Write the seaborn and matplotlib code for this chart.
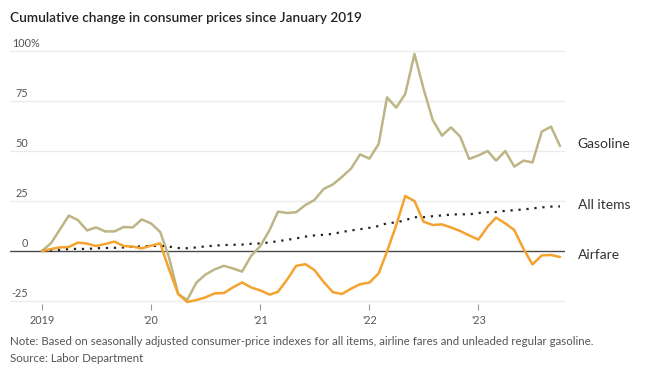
import pandas as pd
import matplotlib.pyplot as plt
import matplotlib.transforms as mtransforms
import seaborn as sns

# monthly readings, Jan 2019 - Oct 2023, cumulative % change since Jan 2019
months = pd.date_range("2019-01-01", periods=58, freq="MS")

gasoline = [0, 4, 10.5, 17.7, 15.5, 10.3, 11.8, 9.8, 9.8, 12, 11.8, 15.8,
            13.8, 9.5, -3, -21.5, -24.5, -15.8, -11.8, -9.2, -7.4, -8.7, -10.3, -2.5,
            2.5, 10.5, 19.7, 19, 19.4, 23, 25.5, 31, 33.3, 37, 41.3, 48.3,
            46.2, 53.5, 76.8, 71.7, 78.5, 98.5, 81.3, 65.5, 57.7, 61.8, 57.2, 46,
            47.8, 50, 45.2, 50, 42.2, 45.2, 44.3, 59.7, 62.2, 52.5]

airfare = [0, 1, 1.8, 2, 4.2, 3.7, 2.5, 3.5, 4.7, 2.5, 2.2, 1.3,
           2.7, 3.8, -9, -21.5, -25.5, -24.5, -23.2, -21.2, -21, -18.2, -15.7, -18.2,
           -19.7, -21.8, -20.4, -14.2, -7.4, -6.6, -9.5, -15.5, -20.6, -21.5, -18.8, -16.6,
           -15.8, -11.2, -0.3, 13, 27.5, 25, 14.7, 13, 13.3, 11.8, 10, 7.8,
           5.7, 12.2, 16.7, 13.8, 10.5, 1, -6.7, -2.2, -2, -3]

all_items = [0, 0.3, 0.6, 1.0, 1.1, 1.0, 1.4, 1.5, 1.6, 1.8, 2.1, 2.4,
             2.5, 2.6, 2.2, 1.5, 1.4, 1.8, 2.3, 2.7, 3.0, 3.1, 3.2, 3.6,
             3.8, 4.3, 4.9, 5.6, 6.3, 7.2, 7.8, 8.1, 8.6, 9.5, 10.3, 10.9,
             11.6, 12.5, 13.9, 14.3, 15.4, 16.9, 16.9, 17.4, 17.8, 18.2, 18.4, 18.3,
             19.0, 19.4, 19.5, 20.1, 20.4, 20.8, 21.3, 21.8, 22.2, 22.3]

y_ticks = [-25, 0, 25, 50, 75, 100]
y_labels = ["-25", "0", "25", "50", "75", "100%"]
x_ticks = pd.to_datetime(["2019-01-01", "2020-01-01", "2021-01-01", "2022-01-01", "2023-01-01"])
x_labels = ["2019", "'20", "'21", "'22", "'23"]

df = pd.DataFrame({"date": months, "Gasoline": gasoline,
                   "Airfare": airfare, "All items": all_items})

sns.set_style("white")
plt.rcParams["font.family"] = ["Lato", "DejaVu Sans"]

fig = plt.figure(figsize=(6.48, 3.75), dpi=100)
ax = fig.add_axes([0.0154, 0.1893, 0.8566, 0.68])

for v in y_ticks:
    if v == 0:
        ax.axhline(0, color="#4a4a4a", lw=1.0, zorder=1)
    else:
        ax.axhline(v, color="#ebebeb", lw=1.0, zorder=0)

sns.lineplot(data=df, x="date", y="Gasoline", ax=ax, color="#bdb585", lw=1.8, zorder=3)
sns.lineplot(data=df, x="date", y="All items", ax=ax, color="#222222", lw=1.6,
             linestyle=(0, (1, 2.6)), zorder=3)
sns.lineplot(data=df, x="date", y="Airfare", ax=ax, color="#f4a32f", lw=1.8, zorder=4)

ax.set_xlim(pd.Timestamp("2018-09-16"), pd.Timestamp("2023-10-18"))
ax.set_ylim(-26.5, 101)
sns.despine(ax=ax, left=True, bottom=True)
ax.set_xlabel("")
ax.set_ylabel("")
ax.set_yticks([])
ax.set_xticks(x_ticks)
ax.set_xticklabels(x_labels, fontsize=7.8, color="#555555")
ax.tick_params(axis="x", length=4, width=0.8, color="#999999", pad=4, bottom=True)

# y labels sit above their gridlines at the left
tr = mtransforms.blended_transform_factory(ax.transAxes, ax.transData)
for v, lab in zip(y_ticks, y_labels):
    if lab.endswith("%"):
        ax.text(0.0036, v + 1.0, lab, transform=tr, ha="left", va="bottom",
                fontsize=7.8, color="#555555")
    else:
        ax.text(0.0324, v + 1.0, lab, transform=tr, ha="right", va="bottom",
                fontsize=7.8, color="#555555")

# series names at the right end
ax.text(1.023, gasoline[-1] + 1, "Gasoline", transform=tr, va="center",
        fontsize=10, color="#333333")
ax.text(1.023, all_items[-1] + 0.5, "All items", transform=tr, va="center",
        fontsize=10, color="#333333")
ax.text(1.023, -2, "Airfare", transform=tr, va="center",
        fontsize=10, color="#333333")

fig.text(0.0154, 0.952, "Cumulative change in consumer prices since January 2019",
         fontsize=9.8, fontweight="semibold", color="#222222", va="center")
fig.text(0.0154, 0.09, "Note: Based on seasonally adjusted consumer-price indexes for all items, "
         "airline fares and unleaded regular gasoline.", fontsize=8.3, color="#555555", va="center")
fig.text(0.0154, 0.043, "Source: Labor Department", fontsize=8.3, color="#555555", va="center")

fig.savefig("out.png", dpi=100)
